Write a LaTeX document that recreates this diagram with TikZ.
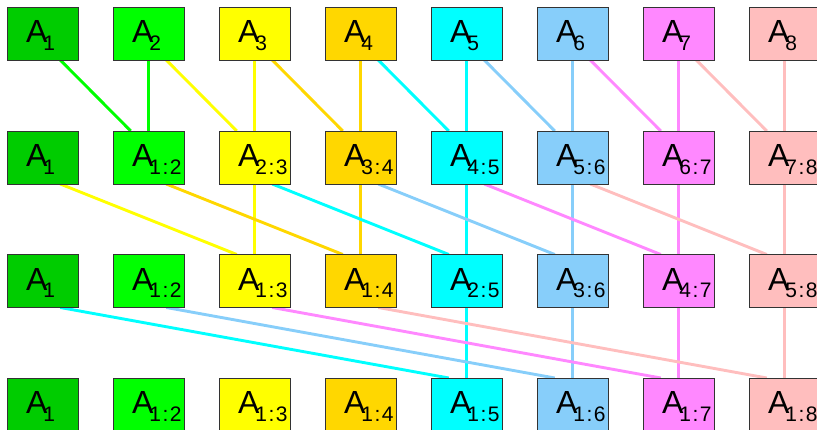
\documentclass[tikz,border=0pt]{standalone}
\usepackage{fontspec}
\setmainfont{Liberation Sans}
\definecolor{c1}{HTML}{00CC00}
\definecolor{c2}{HTML}{00FF00}
\definecolor{c3}{HTML}{FFFF00}
\definecolor{c4}{HTML}{FFD700}
\definecolor{c5}{HTML}{00FFFF}
\definecolor{c6}{HTML}{87CEFA}
\definecolor{c7}{HTML}{FF88FF}
\definecolor{c8}{HTML}{FFBEBE}
\newcommand{\Alab}[1]{\makebox[71pt][l]{\hspace*{19pt}A\kern-4pt\raisebox{-7.5pt}{\fontsize{21}{21}\selectfont #1}}}
\newcommand{\cc}{\kern1.5pt:\kern1.5pt}
\pgfdeclarelayer{bg}
\pgfsetlayers{bg,main}
\begin{document}
\begin{tikzpicture}[x=1pt,y=1pt,
  box/.style={draw=black!80, line width=0.9pt, inner sep=0pt, outer sep=0pt,
    text height=36pt, text depth=17pt, font=\fontsize{32}{32}\selectfont},
  link/.style={line width=2.9pt}]
\path[use as bounding box, clip] (0,0) rectangle (817,430);
\foreach \r/\yy in {1/396.5,2/272.5,3/149,4/25.5} {
  \foreach \j in {1,...,8} {
    \pgfmathtruncatemacro{\st}{max(1,\j-2^(\r-1)+1)}
    \ifnum\r=1
      \def\lab{\j}
    \else
      \ifnum\st=\j
        \def\lab{\j}
      \else
        \edef\lab{\st\noexpand\cc\j}
      \fi
    \fi
    \node[box, fill=c\j] (n-\r-\j) at (42.5+106*\j-106,\yy) {\Alab{\lab}};
  }
}
\begin{pgfonlayer}{bg}
\foreach \r in {1,2,3} {
  \pgfmathtruncatemacro{\dd}{2^(\r-1)}
  \pgfmathtruncatemacro{\st}{\dd+1}
  \pgfmathtruncatemacro{\nx}{\r+1}
  \foreach \j in {\st,...,8} {
    \pgfmathtruncatemacro{\s}{\j-\dd}
    \draw[link, c\j] (n-\r-\j) -- (n-\nx-\j);
    \draw[link, c\j] ([xshift=17.75pt]n-\r-\s.south) -- ([xshift=-17.75pt]n-\nx-\j.north);
  }
}
\end{pgfonlayer}
\end{tikzpicture}
\end{document}
